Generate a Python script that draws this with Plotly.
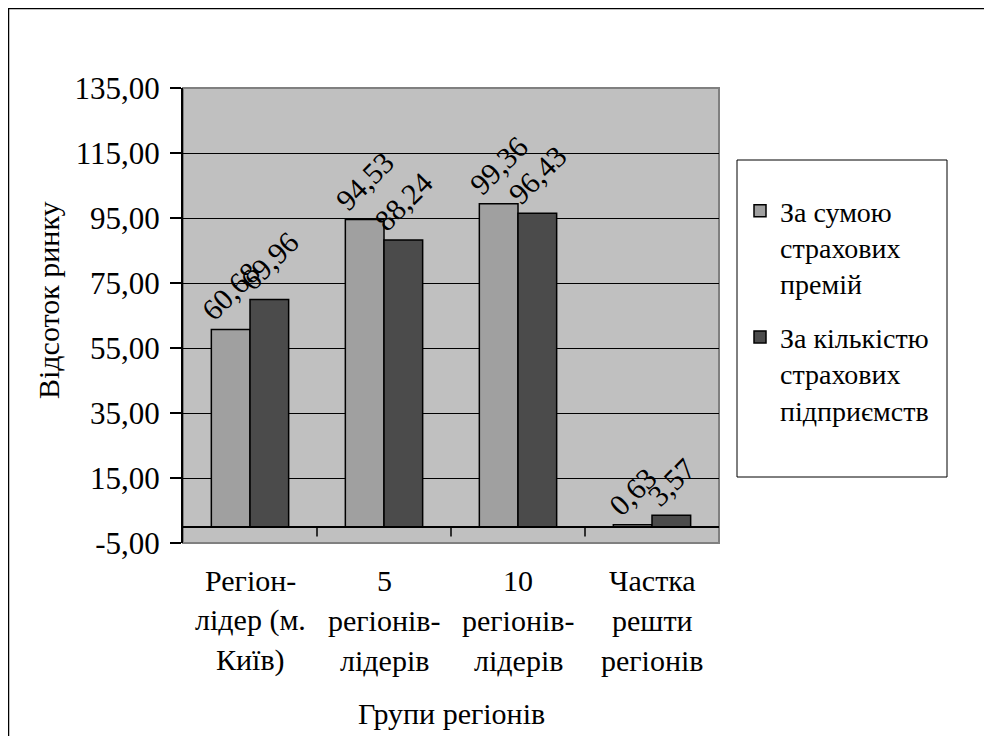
import plotly.graph_objects as go

categories = ["Регіон-лідер (м. Київ)", "5 регіонів-лідерів", "10 регіонів-лідерів", "Частка решти регіонів"]
category_lines = [["Регіон-", "лідер (м.", "Київ)"],
                  ["5", "регіонів-", "лідерів"],
                  ["10", "регіонів-", "лідерів"],
                  ["Частка", "решти", "регіонів"]]
series_names = ["За сумою<br>страхових<br>премій", "За кількістю<br>страхових<br>підприємств"]
premiums = [60.68, 94.53, 99.36, 0.63]
companies = [69.96, 88.24, 96.43, 3.57]
tick_values = [-5, 15, 35, 55, 75, 95, 115, 135]
tick_labels = [f"{v:.2f}".replace(".", ",") for v in tick_values]
y_title = "Відсоток ринку"
x_title = "Групи регіонів"

FONT = "Times New Roman, Liberation Serif, DejaVu Serif, serif"
FS = 30
OFF = 8  # page body margin
W, H = 984, 728
L, R, T, B = 175, 273, 80, 193
pw, ph = W - L - R, H - T - B

def px_x(p):
    return (p - OFF - L) / pw

def px_y(p):
    return (H - B - (p - OFF)) / ph

fig = go.Figure()
colors = ["#A0A0A0", "#4B4B4B"]
for i, (name, vals) in enumerate(zip(series_names, [premiums, companies])):
    fig.add_trace(go.Bar(
        x=categories, y=vals, name=name, legendgroup=str(i),
        marker=dict(color=colors[i], line=dict(color="black", width=1.5)),
        text=[f"{v:.2f}".replace(".", ",") for v in vals],
        textposition="outside", textangle=-45, constraintext="none",
        cliponaxis=False,
        textfont=dict(family=FONT, size=30, color="black"),
    ))

shapes = []
# outer chart border
shapes.append(dict(type="rect", xref="paper", yref="paper",
                   x0=px_x(8.5), x1=px_x(1010), y0=px_y(760), y1=px_y(8.5),
                   line=dict(color="black", width=1.5), fillcolor="rgba(0,0,0,0)", layer="below"))
# plot area border
shapes.append(dict(type="rect", xref="paper", yref="paper", x0=0, x1=1, y0=0, y1=1,
                   line=dict(color="#808080", width=2), fillcolor="rgba(0,0,0,0)", layer="below"))
# legend box
shapes.append(dict(type="rect", xref="paper", yref="paper",
                   x0=px_x(737), x1=px_x(947), y0=px_y(477), y1=px_y(160),
                   line=dict(color="black", width=1), fillcolor="white", layer="below"))
# category ticks below the zero axis line
for b in [0.5, 1.5, 2.5]:
    shapes.append(dict(type="line", xref="x", yref="y", x0=b, x1=b, y0=0, y1=-3,
                       line=dict(color="black", width=1.5)))

annotations = []
for cat, lines in zip(categories, category_lines):
    for j, ln in enumerate(lines):
        annotations.append(dict(x=cat, xref="x", y=px_y(580 + 40 * j), yref="paper",
                                text=ln, showarrow=False, xanchor="center", yanchor="middle",
                                font=dict(family=FONT, size=FS, color="black")))
annotations.append(dict(x=0.5, xref="paper", y=px_y(713), yref="paper", text=x_title,
                        showarrow=False, xanchor="center", yanchor="middle",
                        font=dict(family=FONT, size=FS, color="black")))
annotations.append(dict(x=px_x(48), xref="paper", y=px_y(300), yref="paper", text=y_title,
                        showarrow=False, xanchor="center", yanchor="middle", textangle=-90,
                        font=dict(family=FONT, size=FS, color="black")))

fig.update_layout(
    width=W, height=H,
    margin=dict(l=L, r=R, t=T, b=B, pad=0),
    paper_bgcolor="white", plot_bgcolor="#C0C0C0",
    barmode="group", bargap=0.423, bargroupgap=0,
    font=dict(family=FONT, size=FS, color="black"),
    showlegend=True,
    legend=dict(x=px_x(740), y=px_y(186), xanchor="left", yanchor="top",
                bgcolor="rgba(0,0,0,0)", borderwidth=0,
                font=dict(family=FONT, size=28, color="black"),
                valign="top", tracegroupgap=14, traceorder="grouped"),
    shapes=shapes, annotations=annotations,
    xaxis=dict(categoryorder="array", categoryarray=categories, showticklabels=False,
               showgrid=False, zeroline=False, showline=False, ticks=""),
    yaxis=dict(range=[-5, 135], tickvals=tick_values, ticktext=tick_labels,
               showgrid=True, gridcolor="black", gridwidth=1,
               zeroline=True, zerolinecolor="black", zerolinewidth=1.5,
               showline=True, linecolor="black", linewidth=2,
               ticks="outside", ticklen=11, tickcolor="black", tickwidth=1.5,
               ticklabelstandoff=4,
               tickfont=dict(family=FONT, size=31, color="black")),
)

fig.write_html("out.html")
